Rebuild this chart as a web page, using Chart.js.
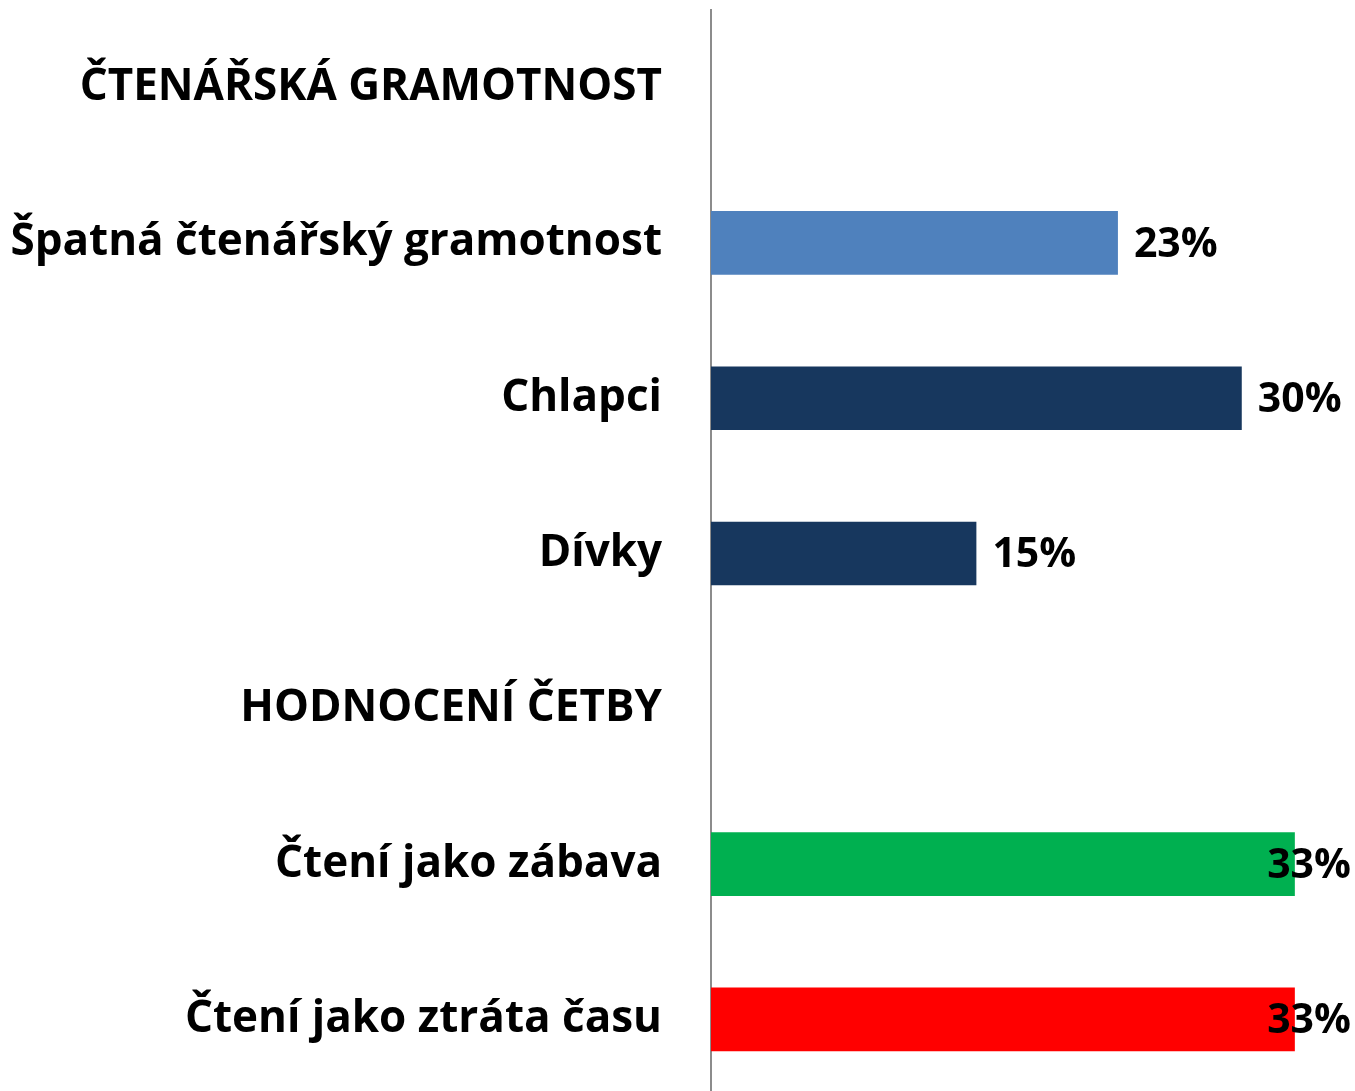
<!DOCTYPE html>
<html>
<head>
<meta charset="utf-8">
<script src="https://cdn.jsdelivr.net/npm/chart.js@4/dist/chart.umd.min.js"></script>
<style>
  html, body { margin: 0; padding: 0; background: #ffffff; overflow: hidden; }
  #wrap { width: 1355px; height: 1097px; position: relative; }
</style>
</head>
<body>
<div id="wrap"><canvas id="c"></canvas></div>
<script>
const categories = [
  "ČTENÁŘSKÁ GRAMOTNOST",
  "Špatná čtenářský gramotnost",
  "Chlapci",
  "Dívky",
  "HODNOCENÍ ČETBY",
  "Čtení jako zábava",
  "Čtení jako ztráta času"
];
const values = [null, 23, 30, 15, null, 33, 33];
const valueLabels = ["", "23%", "30%", "15%", "", "33%", "33%"];
const barColors = ["#4F81BD", "#4F81BD", "#17375E", "#17375E", "#00B050", "#00B050", "#FF0000"];

const FONT = "'Open Sans', 'Liberation Sans', sans-serif";

const dataLabelPlugin = {
  id: 'dataLabels',
  afterDatasetsDraw(chart) {
    const ctx = chart.ctx;
    const meta = chart.getDatasetMeta(0);
    const area = chart.chartArea;
    ctx.save();
    ctx.font = "700 41px " + FONT;
    ctx.fillStyle = "#000000";
    ctx.textBaseline = "middle";
    ctx.textAlign = "left";
    meta.data.forEach((bar, i) => {
      if (values[i] == null) return;
      const txt = valueLabels[i];
      const w = ctx.measureText(txt).width;
      let x = bar.x + 16;
      const maxX = area.right - 4 - w;
      if (x > maxX) x = maxX;
      ctx.fillText(txt, x, bar.y + 2);
    });
    ctx.restore();
  }
};

new Chart(document.getElementById('c'), {
  type: 'bar',
  data: {
    labels: categories,
    datasets: [{
      data: values,
      backgroundColor: barColors,
      borderWidth: 0,
      categoryPercentage: 1.0,
      barPercentage: 0.41
    }]
  },
  options: {
    indexAxis: 'y',
    responsive: true,
    maintainAspectRatio: false,
    animation: false,
    layout: { padding: { top: 10, right: 0, bottom: 0, left: 0 } },
    plugins: { legend: { display: false }, tooltip: { enabled: false } },
    scales: {
      x: {
        display: false,
        min: 0,
        max: 36.4
      },
      y: {
        grid: { display: false, drawTicks: false },
        border: { display: true, color: "#8C8C8C", width: 2 },
        ticks: {
          color: "#000000",
          padding: 49,
          font: { family: FONT, size: 44, weight: '700' }
        },
        afterFit(scale) {
          scale.width = 711;
          scale.paddingTop = 0;
          scale.paddingBottom = 0;
        }
      }
    }
  },
  plugins: [dataLabelPlugin]
});
</script>
</body>
</html>
